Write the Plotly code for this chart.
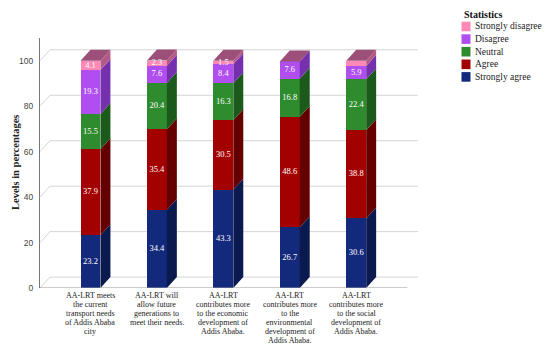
import plotly.graph_objects as go

# ---------------- data ----------------
categories = [
    ["AA-LRT meets", "the current", "transport needs", "of Addis Ababa", "city"],
    ["AA-LRT will", "allow future", "generations to", "meet their needs."],
    ["AA-LRT", "contributes more", "to the economic", "development of", "Addis Ababa."],
    ["AA-LRT", "contributes more", "to the", "environmental", "development of", "Addis Ababa."],
    ["AA-LRT", "contributes more", "to the social", "development of", "Addis Ababa."],
]
strongly_agree = [23.2, 34.4, 43.3, 26.7, 30.6]
agree = [37.9, 35.4, 30.5, 48.6, 38.8]
neutral = [15.5, 20.4, 16.3, 16.8, 22.4]
disagree = [19.3, 7.6, 8.4, 7.6, 5.9]
strongly_disagree = [4.1, 2.3, 1.5, 0.0, 2.3]
strongly_disagree_labels = ["4.1", "2.3", "1.5", "", ""]
y_ticks = [0, 20, 40, 60, 80, 100]

series = [
    ("Strongly agree", strongly_agree, [f"{v}" for v in strongly_agree], "#13297c", "#0a1a4e"),
    ("Agree", agree, [f"{v}" for v in agree], "#a30000", "#640000"),
    ("Neutral", neutral, [f"{v}" for v in neutral], "#2e8b2e", "#1c5a1c"),
    ("Disagree", disagree, [f"{v}" for v in disagree], "#b04ef0", "#7530ad"),
    ("Strongly disagree", strongly_disagree, strongly_disagree_labels, "#ff89b6", "#b35a86"),
]
top_color = "#9c4f78"

# ---------------- geometry (pixel-derived) ----------------
n = len(categories)
xs = list(range(n))
bar_w = 0.30
dx = 0.15      # depth offset in x units
dy = 4.8       # depth offset in y units
x_range = [-0.76, 4.93]
y_range = [0, 110]
serif = "Liberation Serif"

fig = go.Figure()

shapes = []
grid_col = "#d4d4d4"
x_front_right = 4.77
for t in y_ticks:
    shapes.append(dict(type="line", xref="x", yref="y", x0=x_range[0], y0=t,
                       x1=x_range[0] + dx, y1=t + dy, line=dict(color=grid_col, width=1), layer="below"))
    shapes.append(dict(type="line", xref="x", yref="y", x0=x_range[0] + dx, y0=t + dy,
                       x1=x_range[1], y1=t + dy, line=dict(color=grid_col, width=1), layer="below"))
shapes.append(dict(type="line", xref="x", yref="y", x0=x_range[0], y0=0, x1=x_front_right, y1=0,
                   line=dict(color="#999999", width=1), layer="above"))

label_traces = []
base = [0.0] * n
for name, vals, labels, col, side in series:
    fig.add_trace(go.Bar(x=xs, y=vals, base=base[:], width=bar_w, name=name,
                         marker=dict(color=col, line=dict(width=0)), showlegend=False,
                         hoverinfo="skip"))
    for i in range(n):
        if vals[i] <= 0:
            continue
        b = base[i]
        t = base[i] + vals[i]
        xr = xs[i] + bar_w / 2
        fig.add_trace(go.Scatter(
            x=[xr, xr + dx, xr + dx, xr, xr],
            y=[b, b + dy, t + dy, t, b],
            fill="toself", fillcolor=side, mode="lines", line=dict(width=0, color=side),
            showlegend=False, hoverinfo="skip"))
    label_traces.append(go.Scatter(
        x=xs, y=[base[i] + vals[i] / 2 for i in range(n)], text=labels, mode="text",
        textfont=dict(family=serif, size=8.5, color="white"), showlegend=False, hoverinfo="skip"))
    base = [base[i] + vals[i] for i in range(n)]

for i in range(n):
    T = base[i]
    xl = xs[i] - bar_w / 2
    xr = xs[i] + bar_w / 2
    fig.add_trace(go.Scatter(
        x=[xl, xl + dx, xr + dx, xr, xl],
        y=[T, T + dy, T + dy, T, T],
        fill="toself", fillcolor=top_color, mode="lines", line=dict(width=0, color=top_color),
        showlegend=False, hoverinfo="skip"))

for tr in label_traces:
    fig.add_trace(tr)

annotations = []
for i, lines in enumerate(categories):
    for k, line in enumerate(lines):
        annotations.append(dict(x=xs[i], y=0, xref="x", yref="paper", text=line, showarrow=False,
                                yanchor="middle", xanchor="center", yshift=-7 - 9.1 * k,
                                font=dict(family=serif, size=8, color="#222222")))

# manual legend / titles (page-pixel positions converted to paper coords of the plot area)
pw, ph, left, bottom = 378.0, 250.0, 40.0, 288.0
def px(xp):
    return (xp - left) / pw
def py(yp):
    return (bottom - yp) / ph

annotations.append(dict(x=px(15), y=0.5, xref="paper", yref="paper", text="<b>Levels in percentages</b>",
                        textangle=-90, showarrow=False, xanchor="center", yanchor="middle",
                        font=dict(family=serif, size=10.5, color="#222222")))

annotations.append(dict(x=px(483), y=py(15), xref="paper", yref="paper", text="<b>Statistics</b>",
                        showarrow=False, xanchor="center", yanchor="middle",
                        font=dict(family=serif, size=10, color="#111111")))
legend_order = list(reversed(series))
for k, (name, vals, labels, col, side) in enumerate(legend_order):
    yc = 26.5 + 12.6 * k
    shapes.append(dict(type="rect", xref="paper", yref="paper", x0=px(461.5), x1=px(470.5),
                       y0=py(yc + 4.8), y1=py(yc - 4.8), fillcolor=col, line=dict(width=0)))
    annotations.append(dict(x=px(472.5), y=py(yc), xref="paper", yref="paper", text=name,
                            showarrow=False, xanchor="left", yanchor="middle",
                            font=dict(family=serif, size=9.5, color="#222222")))

# page body has an 8px margin, so the figure is 8px smaller and margins shifted
fig.update_layout(
    width=542, height=338,
    margin=dict(l=32, r=132, t=30, b=58),
    paper_bgcolor="white", plot_bgcolor="white",
    barmode="overlay", bargap=0,
    shapes=shapes, annotations=annotations,
    showlegend=False,
    xaxis=dict(range=x_range, showgrid=False, zeroline=False, showticklabels=False, showline=False,
               fixedrange=True, automargin=False),
    yaxis=dict(range=y_range, tickvals=y_ticks, showgrid=False, zeroline=False,
               showline=True, linecolor="#777777", linewidth=1, automargin=False,
               tickfont=dict(family="Liberation Sans", size=8.5, color="#444444"),
               ticks="outside", ticklen=4, tickcolor="rgba(0,0,0,0)", fixedrange=True),
)

fig.write_html("out.html")
